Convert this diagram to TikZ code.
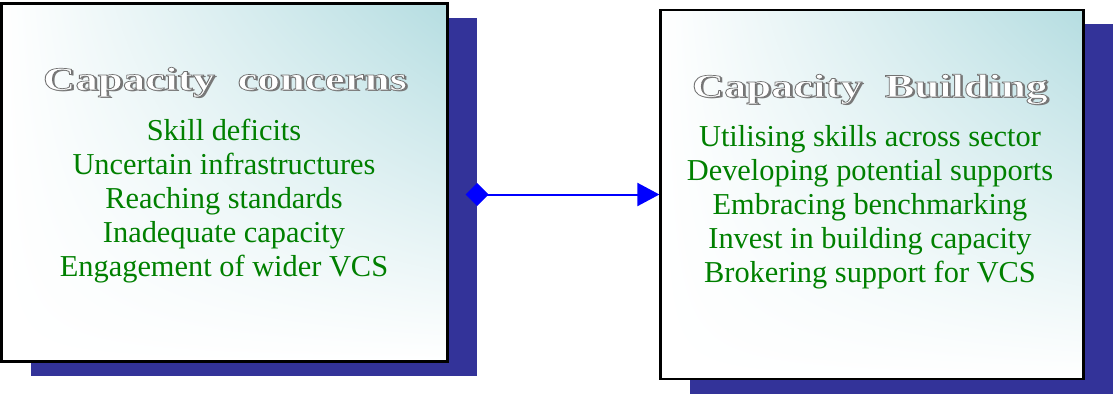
\documentclass[tikz,border=0pt]{standalone}
\usepackage{fontspec}
\setmainfont{Liberation Serif}
\usepackage{graphicx}
\usetikzlibrary{arrows.meta,shadows,shadings}
\definecolor{shadowblue}{RGB}{51,51,153}
\definecolor{tealtop}{RGB}{181,221,225}
\definecolor{itemgreen}{RGB}{0,128,0}
\definecolor{titlegray}{RGB}{120,120,120}
\newcommand{\outlinetitle}[2]{%
  \resizebox{#1}{\height}{%
    \bfseries
    \rlap{\raisebox{-1.6bp}{\hspace*{1.6bp}\textcolor{titlegray}{#2}}}%
    {\color{white}\special{pdf:literal direct 2 Tr 0.7 w 0.45 0.45 0.45 RG}#2\special{pdf:literal direct 0 Tr}}%
  }}
\tikzset{
  panel/.style={draw=black, line width=2.2bp, inner sep=0pt, shade,
    upper left=white, upper right=tealtop, lower left=white, lower right=white,
    general shadow={fill=shadowblue, shadow xshift=29.5bp, shadow yshift=-14.5bp}},
  paneltitle/.style={anchor=base, inner sep=0pt, font=\fontsize{33}{34}\selectfont},
  items/.style={anchor=base, inner sep=0pt, align=center, text=itemgreen,
    font=\fontsize{30.5}{34}\selectfont},
  link/.style={draw=blue, line width=2bp,
    {Diamond[length=23bp,width=23bp,fill=blue]}-{Triangle[length=22bp,width=23bp,fill=blue]}}
}
\begin{document}
\begin{tikzpicture}[x=1bp,y=1bp]
\useasboundingbox (0,0) rectangle (1113,394);
\node[panel, minimum width=446bp, minimum height=358bp] (L) at (224.5,211.5) {};
\node[panel, minimum width=423bp, minimum height=369bp] (R) at (872,199.5) {};
\node[paneltitle] (Lt) at (225,304) {\outlinetitle{364bp}{Capacity\ \ concerns}};
\node[paneltitle] (Rt) at (870,297) {\outlinetitle{356bp}{Capacity\ \ Building}};
\node[items] (Li) at (224,118) {Skill deficits\\Uncertain infrastructures\\Reaching standards\\Inadequate capacity\\Engagement of wider VCS};
\node[items] (Ri) at (870,112) {Utilising skills across sector\\Developing potential supports\\Embracing benchmarking\\Invest in building capacity\\Brokering support for VCS};
\coordinate (s) at ([xshift=17bp]L.east |- R.west);
\draw[link] (s) -- (R.west);
\end{tikzpicture}
\end{document}
